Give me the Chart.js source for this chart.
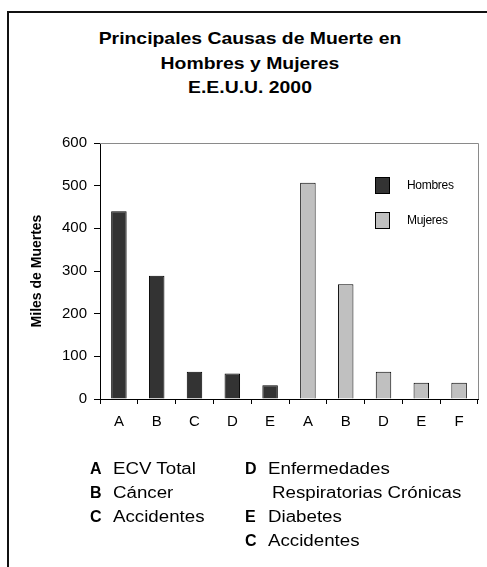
<!DOCTYPE html>
<html>
<head>
<meta charset="utf-8">
<script src="https://cdn.jsdelivr.net/npm/chart.js@4"></script>
<style>
  html, body { margin:0; padding:0; background:#fff; }
  body { width:487px; height:567px; position:relative; overflow:hidden; font-family:"Liberation Sans", Arial, sans-serif; }
  #frame { position:absolute; left:7px; top:11px; width:600px; height:700px; border-left:2px solid #111; border-top:2px solid #111; }
  #title { position:absolute; left:0; width:500px; top:27px; text-align:center; font-weight:bold; font-size:17px; line-height:24.5px; color:#000; transform:scaleX(1.14); transform-origin:250px 0; }
  #chartWrap { position:absolute; left:0; top:0; width:487px; height:567px; }
  .leg { position:absolute; font-size:12px; letter-spacing:-0.3px; color:#000; }
  .sw { position:absolute; width:15px; height:17px; border:1px solid #000; box-sizing:border-box; }
  .note { position:absolute; font-size:16px; color:#000; white-space:nowrap; }
  .note b { display:inline-block; width:23px; }
  .note span { display:inline-block; transform:scaleX(1.17); transform-origin:0 0; }
</style>
</head>
<body>
<div id="frame"></div>
<div id="title"></div>
<div id="chartWrap"><canvas id="c" width="487" height="567"></canvas></div>
<div id="legend"></div>
<div id="notes"></div>
<script>
// ---- data ----
const titleLines = ["Principales Causas de Muerte en", "Hombres y Mujeres", "E.E.U.U. 2000"];
const categories = ["A", "B", "C", "D", "E", "A", "B", "D", "E", "F"];
const hombres = [440, 289, 64, 60, 32, null, null, null, null, null];
const mujeres = [null, null, null, null, null, 507, 269, 64, 38, 38];
const seriesNames = ["Hombres", "Mujeres"];
const seriesColors = ["#333333", "#c0c0c0"];
const yTicks = [0, 100, 200, 300, 400, 500, 600];
const yTitle = "Miles de Muertes";
const notesLeft = [["A", "ECV Total"], ["B", "Cáncer"], ["C", "Accidentes"]];
const notesRight = [["D", "Enfermedades"], ["", "Respiratorias Crónicas"], ["E", "Diabetes"], ["C", "Accidentes"]];

// ---- title ----
document.getElementById('title').innerHTML = titleLines.join('<br>');

// ---- legend (HTML) ----
const legend = document.getElementById('legend');
seriesNames.forEach((n, i) => {
  const top = 177 + i * 35;
  const sw = document.createElement('div');
  sw.className = 'sw';
  sw.style.left = '375px'; sw.style.top = top + 'px';
  sw.style.background = seriesColors[i];
  legend.appendChild(sw);
  const t = document.createElement('div');
  t.className = 'leg';
  t.style.left = '407px'; t.style.top = (top + 1) + 'px';
  t.textContent = n;
  legend.appendChild(t);
});

// ---- notes ----
const notes = document.getElementById('notes');
function addNotes(arr, x, y0) {
  arr.forEach((p, i) => {
    const d = document.createElement('div');
    d.className = 'note';
    d.style.left = x + 'px';
    d.style.top = (y0 + i * 24) + 'px';
    d.innerHTML = (p[0] ? '<b>' + p[0] + '</b>' : '<b style="width:27px"></b>') + '<span>' + p[1] + '</span>';
    notes.appendChild(d);
  });
}
addNotes(notesLeft, 90, 460);
addNotes(notesRight, 245, 460);

// ---- chart ----
const frameLines = {
  id: 'frameLines',
  afterDraw(chart) {
    const {ctx, chartArea: a} = chart;
    ctx.save();
    ctx.strokeStyle = '#8a8a8a';
    ctx.lineWidth = 1;
    ctx.beginPath();
    ctx.moveTo(a.left, Math.round(a.top) + 0.5);
    ctx.lineTo(Math.round(a.right) + 0.5, Math.round(a.top) + 0.5);
    ctx.lineTo(Math.round(a.right) + 0.5, a.bottom);
    ctx.stroke();
    ctx.restore();
  }
};

new Chart(document.getElementById('c'), {
  type: 'bar',
  data: {
    labels: categories,
    datasets: [
      { label: seriesNames[0], data: hombres, backgroundColor: seriesColors[0], borderColor: '#000', borderWidth: 1, categoryPercentage: 1, barPercentage: 0.41 },
      { label: seriesNames[1], data: mujeres, backgroundColor: seriesColors[1], borderColor: '#000', borderWidth: 1, categoryPercentage: 1, barPercentage: 0.41 }
    ]
  },
  options: {
    responsive: false,
    animation: false,
    layout: { padding: { top: 143, right: 9, left: 0, bottom: 0 } },
    plugins: { legend: { display: false }, tooltip: { enabled: false } },
    scales: {
      x: {
        stacked: true,
        grid: { drawOnChartArea: false, drawTicks: true, tickLength: 5, color: '#000', offset: true },
        border: { display: true, color: '#000', width: 1 },
        ticks: { color: '#000', font: { family: 'Liberation Sans', size: 15 }, padding: 9, maxRotation: 0 },
        afterFit(s) { s.height = 168; }
      },
      y: {
        stacked: true,
        min: 0, max: 600,
        afterBuildTicks(s) { s.ticks = yTicks.map(v => ({ value: v })); },
        grid: { drawOnChartArea: false, drawTicks: true, tickLength: 6, color: '#000' },
        border: { display: true, color: '#000', width: 1 },
        ticks: { color: '#000', font: { family: 'Liberation Sans', size: 15 }, padding: 7 },
        title: { display: true, text: yTitle, color: '#000', font: { family: 'Liberation Sans', size: 14, weight: 'bold' }, padding: { top: 29, bottom: 0 } },
        afterFit(s) { s.width = 100; }
      }
    }
  },
  plugins: [frameLines]
});
</script>
</body>
</html>
